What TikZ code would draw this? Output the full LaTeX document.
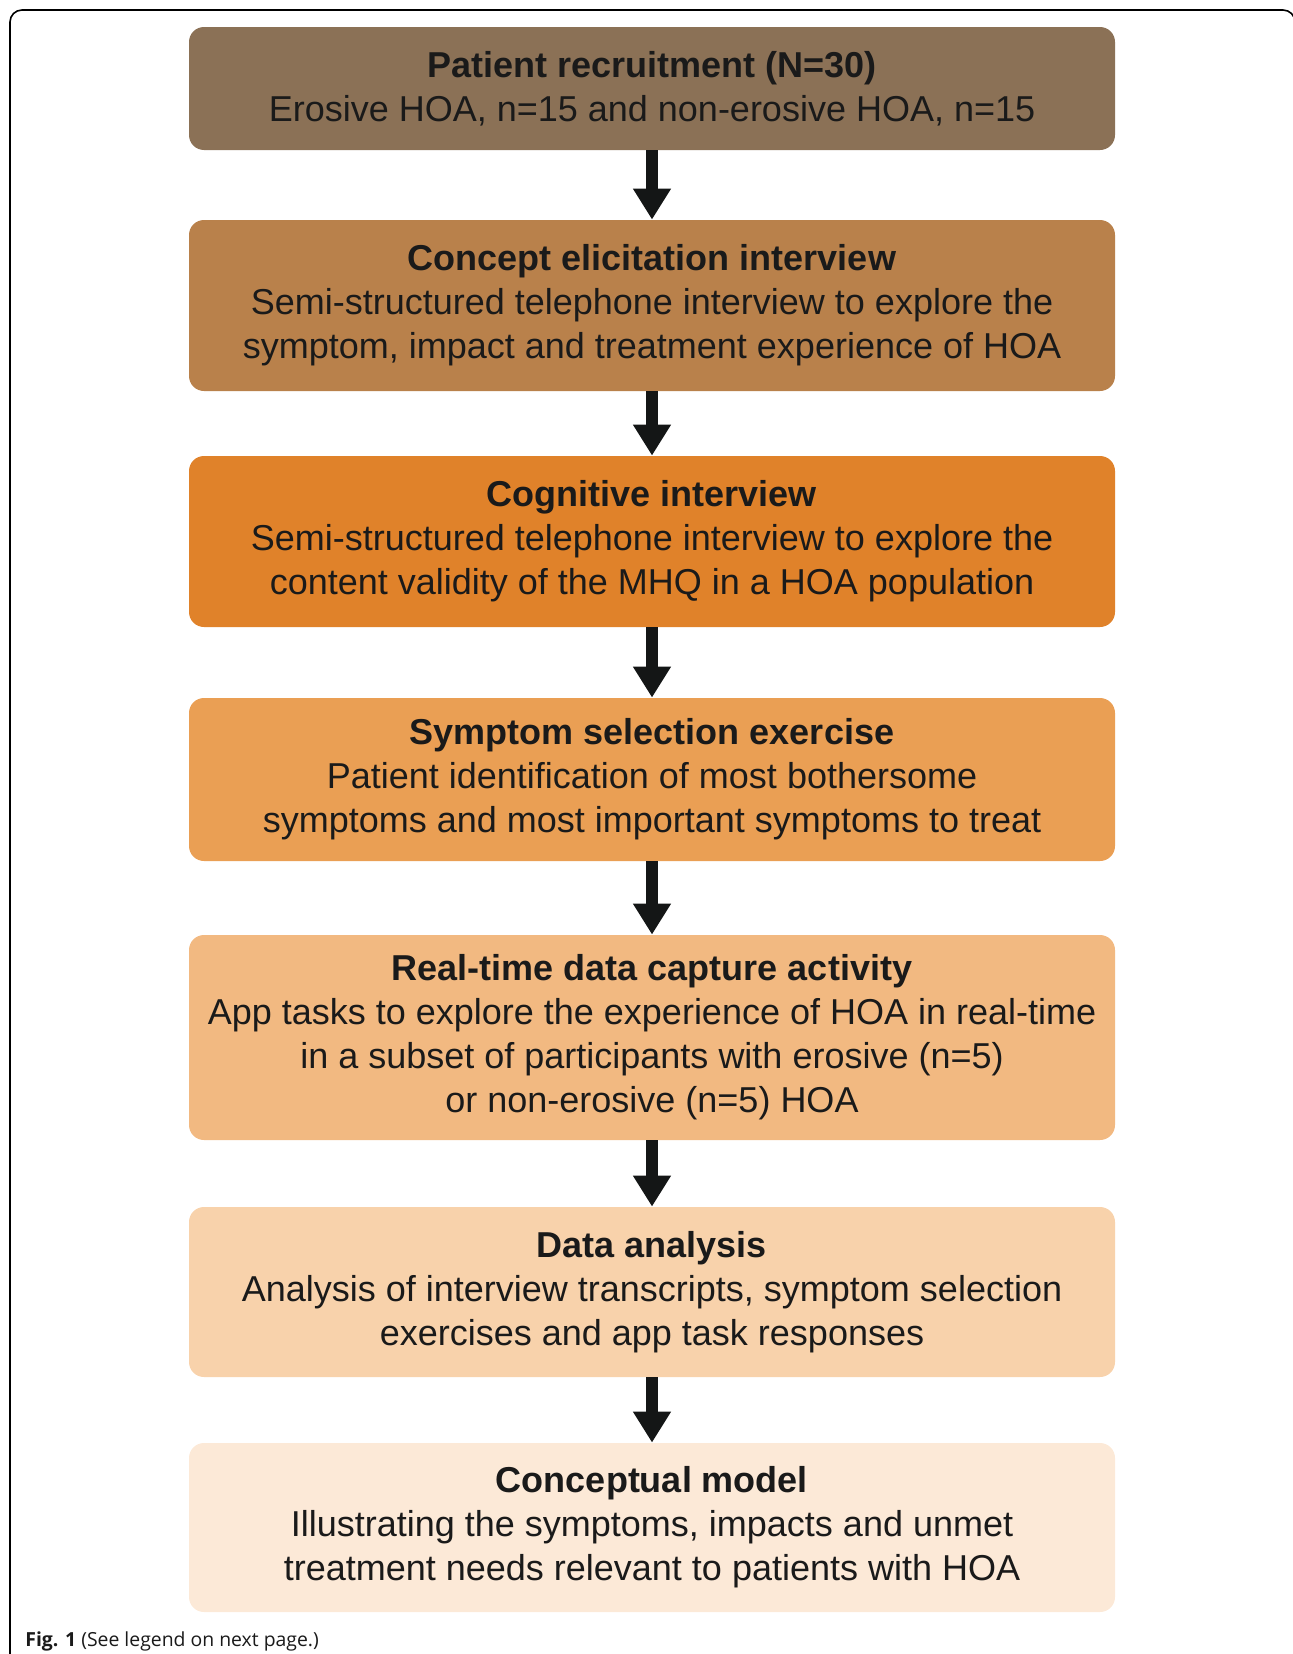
\documentclass[tikz,border=0pt]{standalone}
\usepackage{fontspec}
\newfontfamily\boxfont{Liberation Sans}
\newfontfamily\capfont{Open Sans}
\usetikzlibrary{positioning, arrows.meta}

\definecolor{stageA}{RGB}{139,113,86}
\definecolor{stageB}{RGB}{185,129,75}
\definecolor{stageC}{RGB}{224,130,42}
\definecolor{stageD}{RGB}{234,159,84}
\definecolor{stageE}{RGB}{242,185,129}
\definecolor{stageF}{RGB}{248,210,171}
\definecolor{stageG}{RGB}{252,233,215}
\definecolor{txt}{RGB}{26,26,26}
\definecolor{arr}{RGB}{20,22,22}

\begin{document}
\begin{tikzpicture}[x=0.5pt,y=-0.5pt,
  stage/.style={rectangle, rounded corners=7.5pt, draw=none, minimum width=463pt,
    inner sep=0pt, align=center, text=txt, font=\boxfont\fontsize{18}{22}\selectfont},
  down/.style={draw=arr, line width=6pt, -{Triangle[width=18pt,length=15.5pt]}}]
\useasboundingbox (0,0) rectangle (1293,1654);
%\draw [draw=black] (0,0) rectangle (1293,1654);
\draw [line width=0.8pt, rounded corners=6pt] (10,1660) -- (10,10) -- (1295,10) -- (1295,1660);

\node[stage, fill=stageA, minimum height=61.5pt] (B1) at (652,88.5)
  {\textbf{Patient recruitment (N=30)}\\Erosive HOA, n=15 and non-erosive HOA, n=15};
\node[stage, fill=stageB, minimum height=85.5pt] (B2) at (652,305.5)
  {\textbf{Concept elicitation interview}\\Semi-structured telephone interview to explore the\\symptom, impact and treatment experience of HOA};
\node[stage, fill=stageC, minimum height=85.5pt] (B3) at (652,541.5)
  {\textbf{Cognitive interview}\\Semi-structured telephone interview to explore the\\content validity of the MHQ in a HOA population};
\node[stage, fill=stageD, minimum height=81.5pt] (B4) at (652,779.5)
  {\textbf{Symptom selection exercise}\\Patient identification of most bothersome\\symptoms and most important symptoms to treat};
\node[stage, fill=stageE, minimum height=102.5pt] (B5) at (652,1037.5)
  {\textbf{Real-time data capture activity}\\App tasks to explore the experience of HOA in real-time\\in a subset of participants with erosive (n=5)\\or non-erosive (n=5) HOA};
\node[stage, fill=stageF, minimum height=85pt] (B6) at (652,1292)
  {\textbf{Data analysis}\\Analysis of interview transcripts, symptom selection\\exercises and app task responses};
\node[stage, fill=stageG, minimum height=84.5pt] (B7) at (652,1527.5)
  {\textbf{Conceptual model}\\Illustrating the symptoms, impacts and unmet\\treatment needs relevant to patients with HOA};

\draw [down] (B1) -- (B2);
\draw [down] (B2) -- (B3);
\draw [down] (B3) -- (B4);
\draw [down] (B4) -- (B5);
\draw [down] (B5) -- (B6);
\draw [down] (B6) -- (B7);

\node[anchor=base west, inner sep=0pt, text=txt, font=\capfont\fontsize{9.7}{12}\selectfont] (cap) at (25,1646)
  {\textbf{Fig. 1} (See legend on next page.)};
\end{tikzpicture}
\end{document}
